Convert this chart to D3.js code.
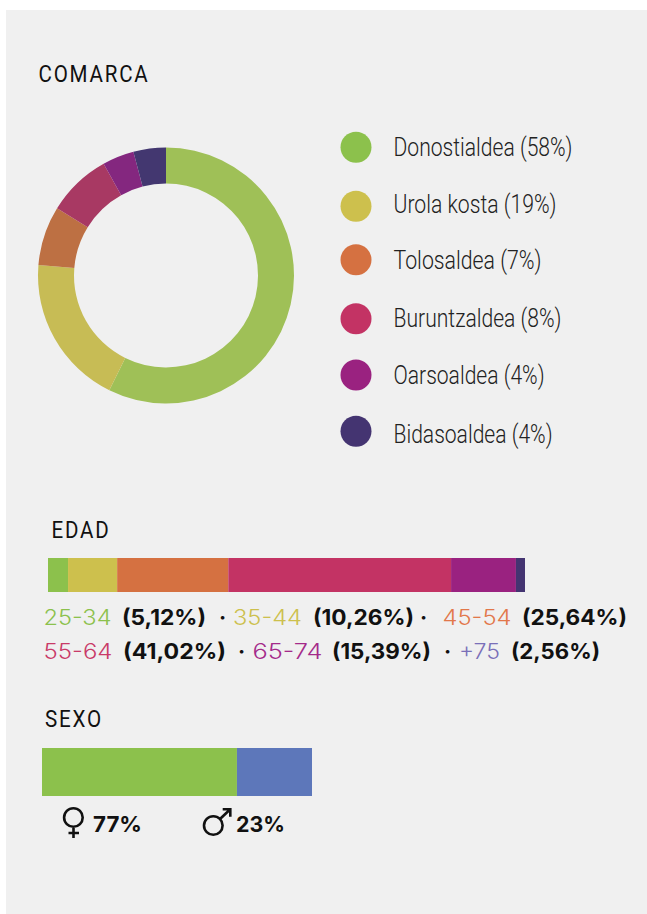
<!DOCTYPE html>
<html><head><meta charset="utf-8">
<script src="https://cdn.jsdelivr.net/npm/d3@7/dist/d3.min.js"></script>
<style>html,body{margin:0;padding:0;background:#fff}svg{display:block}</style>
</head><body><div id="c"></div>
<script>
// DATA
const comarcas = ["Donostialdea (58%)","Urola kosta (19%)","Tolosaldea (7%)","Buruntzaldea (8%)","Oarsoaldea (4%)","Bidasoaldea (4%)"];
const comarcaValues = [57.3,19.0,7.5,8.1,4.0,4.1];
const comarcaColors = ["#8cc14c","#cdc04d","#d57141","#c33364","#9a2280","#443471"];
const donutColors = ["#9fc057","#c7bc55","#bd7043","#a83963","#84277f","#433770"];
const edadBarValues = [4.2,10.3,23.3,46.7,13.6,1.9];
const edadColors = comarcaColors;
const sexoBarValues = [72.2,27.8];
const sexoColors = ["#8cc14c","#5d77ba"];
const titles = ["COMARCA","EDAD","SEXO"];
const edadRow1 = [["25-34","#8cc14c"],["(5,12%)",null],["·",null],["35-44","#cdc04d"],["(10,26%)",null],["·",null],["45-54","#e2774a"],["(25,64%)",null]];
const edadRow2 = [["55-64","#c93a68"],["(41,02%)",null],["·",null],["65-74","#a42a8a"],["(15,39%)",null],["·",null],["+75","#7a6fb8"],["(2,56%)",null]];
const sexoLabels = ["77%","23%"];

// LAYOUT
const W=647,H=914;
const svg=d3.select("#c").append("svg").attr("width",W).attr("height",H);
svg.append("rect").attr("x",6).attr("y",10).attr("width",641).attr("height",904).attr("fill","#f0f0f0");

const titleX=[38.5,51.5,45], titleY=[82,538,727], titleW=[111,59,58];
svg.selectAll("text.title").data(titles).join("text").attr("class","title")
  .attr("x",(d,i)=>titleX[i]).attr("y",(d,i)=>titleY[i])
  .attr("textLength",(d,i)=>titleW[i]).attr("lengthAdjust","spacingAndGlyphs")
  .attr("font-family","Roboto").attr("font-size",23).attr("letter-spacing",2).attr("fill","#111").text(d=>d);

// donut
const pie=d3.pie().sort(null)(comarcaValues);
const arc=d3.arc().innerRadius(92).outerRadius(128);
svg.append("g").attr("transform","translate(166,275.5)").selectAll("path").data(pie).join("path")
  .attr("d",arc).attr("fill",(d,i)=>donutColors[i]);

// legend
const legendY=[147.3,206.3,259.7,318.7,375,431.3];
const legendB=[156,212.5,269,326.5,383.5,443];
const legendW=[179,163,148,168,151,159];
const lg=svg.append("g").selectAll("g").data(comarcas).join("g");
lg.append("circle").attr("cx",356).attr("cy",(d,i)=>legendY[i]).attr("r",15.5).attr("fill",(d,i)=>comarcaColors[i]);
lg.append("text").attr("x",393.5).attr("y",(d,i)=>legendB[i]).attr("textLength",(d,i)=>legendW[i]).attr("lengthAdjust","spacingAndGlyphs")
  .attr("font-family","Roboto").attr("font-weight",300).attr("font-size",25).attr("fill","#222").text(d=>d);

// stacked bars
function stacked(vals,cols,x0,x1,y,h){
  const sc=d3.scaleLinear().domain([0,d3.sum(vals)]).range([x0,x1]);
  const cum=d3.cumsum(vals);
  svg.append("g").selectAll("rect").data(vals).join("rect")
    .attr("x",(d,i)=>sc(i?cum[i-1]:0)).attr("width",(d,i)=>sc(cum[i])-sc(i?cum[i-1]:0))
    .attr("y",y).attr("height",h).attr("fill",(d,i)=>cols[i]);
}
stacked(edadBarValues,edadColors,48,525,558,34);
stacked(sexoBarValues,sexoColors,42,312,748,48);

// edad text
const row1X=[[43.5,68],[122,84],[219,0],[233,69],[313,101],[420,0],[442.5,69],[522,105]];
const row2X=[[43.5,69],[123,103],[238,0],[252.5,70],[332,99],[444,0],[459,41],[511,89]];
function row(items,pos,y){
  svg.append("g").selectAll("text").data(items).join("text")
    .attr("x",(d,i)=>pos[i][0]).attr("y",y)
    .attr("font-family","Inter").attr("font-size",21.5)
    .attr("font-weight",d=>d[1]?300:700).attr("fill",d=>d[1]||"#111")
    .attr("textLength",(d,i)=>pos[i][1]||null).attr("lengthAdjust","spacingAndGlyphs")
    .text(d=>d[0]);
}
row(edadRow1,row1X,625);
row(edadRow2,row2X,659);

// sexo symbols
const sym=svg.append("g").attr("fill","none").attr("stroke","#111").attr("stroke-width",2.6);
const venus=d3.path(); venus.moveTo(73.5,828); venus.lineTo(73.5,838); venus.moveTo(68.5,833); venus.lineTo(79,833);
sym.append("circle").attr("cx",73.4).attr("cy",817.5).attr("r",9.3);
sym.append("path").attr("d",venus.toString());
const mars=d3.path(); mars.moveTo(220,819); mars.lineTo(230,809.5); mars.moveTo(222.7,809.2); mars.lineTo(230.3,809.2); mars.lineTo(230.3,816.7);
sym.append("circle").attr("cx",213.3).attr("cy",825.5).attr("r",9.3);
sym.append("path").attr("d",mars.toString());

const sexX=[93,236];
svg.append("g").selectAll("text").data(sexoLabels).join("text")
  .attr("x",(d,i)=>sexX[i]).attr("y",832).attr("textLength",49).attr("lengthAdjust","spacingAndGlyphs")
  .attr("font-family","Inter").attr("font-weight",700).attr("font-size",21.5).attr("fill","#111").text(d=>d);
</script></body></html>
